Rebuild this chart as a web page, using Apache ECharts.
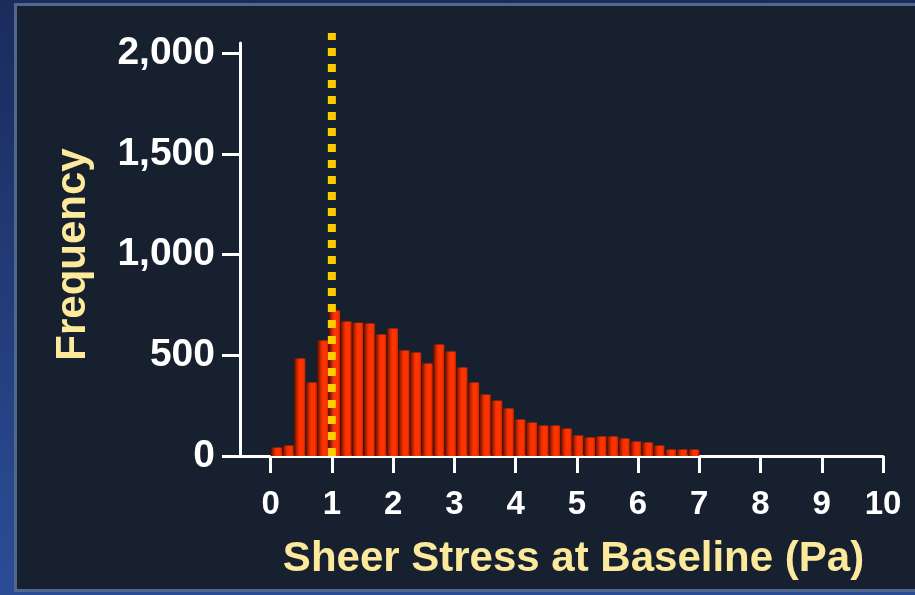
<!DOCTYPE html>
<html>
<head>
<meta charset="utf-8">
<title>Sheer Stress at Baseline</title>
<script src="https://cdn.jsdelivr.net/npm/echarts@6/dist/echarts.min.js"></script>
<style>
  html, body {
    margin: 0;
    padding: 0;
    width: 915px;
    height: 595px;
    overflow: hidden;
    background: linear-gradient(to bottom, #1b2b5c, #2b4d96);
  }
  .panel {
    position: absolute;
    left: 14px;
    top: 3px;
    width: 898px;
    height: 583px;
    border: 3px solid #50688c;
    border-right: none;
    background-color: #16202e;
  }
  #chart {
    position: absolute;
    left: 0;
    top: 0;
    width: 915px;
    height: 595px;
  }
</style>
</head>
<body>
<div class="panel"></div>
<div id="chart"></div>
<script>
// histogram counts, bins from 0 to 7 Pa
const frequency = [42, 52, 484, 365, 573, 722, 667, 662, 658, 603, 633, 524, 514, 459, 553, 519, 439,
  365, 305, 275, 236, 181, 166, 151, 151, 136, 102, 92, 97, 97, 87, 72, 67, 52, 32, 32, 32];
const binFrom = 0;
const binTo = 7;
const xTicks = [0, 1, 2, 3, 4, 5, 6, 7, 8, 9, 10];
const yTicks = [0, 500, 1000, 1500, 2000];
// vertical cut-off at 1 Pa
const cutoffLine = [[1, 0], [1, 2100]];

const binWidth = (binTo - binFrom) / frequency.length;
const bins = frequency.map((v, i) => [binFrom + i * binWidth, binFrom + (i + 1) * binWidth, v]);

const font = 'Liberation Sans, Arial, sans-serif';

let myChart = echarts.init(document.getElementById('chart'));
let option = {
  backgroundColor: 'transparent',
  animation: false,
  grid: {
    left: 240,
    right: 32,
    top: 43,
    bottom: 139
  },
  xAxis: {
    type: 'value',
    min: -0.5,
    max: 10,
    name: 'Sheer Stress at Baseline (Pa)',
    nameLocation: 'middle',
    nameGap: 82,
    nameTextStyle: {
      color: '#fce99b',
      fontSize: 42,
      fontWeight: 'bold',
      fontFamily: font,
      padding: [0, 0, 0, 24]
    },
    axisLine: { onZero: false, lineStyle: { color: '#ffffff', width: 3 } },
    axisTick: {
      customValues: xTicks,
      length: 17,
      lineStyle: { color: '#ffffff', width: 3 }
    },
    axisLabel: {
      customValues: xTicks,
      margin: 32,
      color: '#ffffff',
      fontSize: 33,
      fontWeight: 'bold',
      fontFamily: font
    },
    splitLine: { show: false }
  },
  yAxis: {
    type: 'value',
    min: 0,
    max: 2050,
    name: 'Frequency',
    nameLocation: 'middle',
    nameGap: 146,
    nameTextStyle: {
      color: '#fce99b',
      fontSize: 42,
      fontWeight: 'bold',
      fontFamily: font,
      padding: [0, 10, 0, 0]
    },
    axisLine: { show: true, onZero: false, lineStyle: { color: '#ffffff', width: 3 } },
    axisTick: {
      show: true,
      customValues: yTicks,
      length: 18,
      lineStyle: { color: '#ffffff', width: 3 }
    },
    axisLabel: {
      customValues: yTicks,
      margin: 25,
      color: '#ffffff',
      fontSize: 39,
      fontWeight: 'bold',
      fontFamily: font,
      formatter: v => v.toLocaleString('en-US')
    },
    splitLine: { show: false }
  },
  series: [
    {
      name: 'Frequency',
      type: 'custom',
      data: bins,
      encode: { x: [0, 1], y: 2 },
      renderItem: function (params, api) {
        let start = api.coord([api.value(0), api.value(2)]);
        let end = api.coord([api.value(1), 0]);
        return {
          type: 'rect',
          shape: {
            x: start[0],
            y: start[1],
            width: end[0] - start[0],
            height: end[1] - start[1]
          },
          style: {
            fill: new echarts.graphic.LinearGradient(0, 0, 1, 0, [
              { offset: 0, color: '#4a0b00' },
              { offset: 0.3, color: '#c82800' },
              { offset: 0.5, color: '#ff3300' },
              { offset: 0.8, color: '#ff3300' },
              { offset: 1, color: '#b82400' }
            ])
          }
        };
      },
      z: 2
    },
    {
      name: 'Cut-off',
      type: 'line',
      data: cutoffLine,
      clip: false,
      symbol: 'none',
      lineStyle: {
        color: '#ffcc00',
        width: 8,
        type: [8, 8],
        cap: 'butt'
      },
      z: 3
    }
  ]
};
myChart.setOption(option);
</script>
</body>
</html>
